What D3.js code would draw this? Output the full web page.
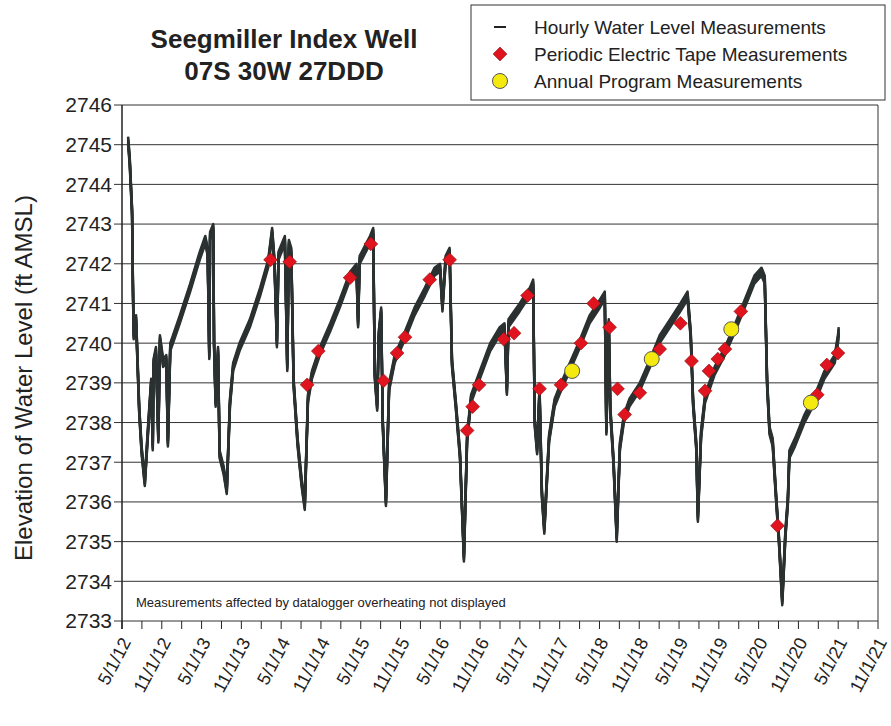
<!DOCTYPE html>
<html>
<head>
<meta charset="utf-8">
<script src="https://cdn.jsdelivr.net/npm/d3@7"></script>
<style>
  body { margin: 0; background: #fff; }
  text { font-family: "Liberation Sans", Arial, sans-serif; fill: #222; }
</style>
</head>
<body>
<div id="chart"></div>
<script>
// --- data (decimal year, ft AMSL) ---
const hourly = [
  [2012.41,2745.1],[2012.43,2744.6],[2012.46,2743.3],[2012.47,2741.5],[2012.48,2740.2],[2012.51,2740.6],
  [2012.55,2738.3],[2012.58,2737.3],[2012.62,2736.5],[2012.66,2737.8],[2012.70,2739.0],[2012.72,2737.4],
  [2012.73,2739.5],[2012.76,2739.8],[2012.79,2737.6],[2012.81,2740.1],[2012.85,2739.5],[2012.89,2739.6],
  [2012.91,2737.5],[2012.94,2739.9],[2013.06,2740.6],[2013.19,2741.4],[2013.31,2742.2],[2013.38,2742.6],
  [2013.41,2742.3],[2013.43,2739.7],[2013.44,2742.7],[2013.48,2742.9],[2013.49,2740.0],[2013.51,2738.5],
  [2013.54,2739.8],[2013.56,2737.2],[2013.61,2736.8],[2013.65,2736.3],[2013.69,2738.5],[2013.73,2739.4],
  [2013.81,2739.9],[2013.94,2740.5],[2014.07,2741.3],[2014.17,2742.0],[2014.22,2742.8],[2014.25,2742.0],
  [2014.28,2740.0],[2014.30,2742.2],[2014.38,2742.6],[2014.41,2739.4],[2014.43,2742.5],[2014.46,2742.3],
  [2014.49,2739.0],[2014.54,2737.5],[2014.59,2736.5],[2014.63,2735.9],[2014.67,2738.6],[2014.72,2739.2],
  [2014.82,2739.8],[2014.95,2740.4],[2015.07,2741.0],[2015.20,2741.7],[2015.28,2741.9],[2015.30,2740.5],
  [2015.32,2742.1],[2015.45,2742.6],[2015.49,2742.8],[2015.51,2739.2],[2015.54,2738.4],[2015.56,2740.2],
  [2015.59,2740.8],[2015.61,2738.0],[2015.65,2736.0],[2015.69,2738.9],[2015.76,2739.6],[2015.89,2740.2],
  [2016.01,2740.8],[2016.14,2741.3],[2016.26,2741.8],[2016.33,2741.9],[2016.36,2740.9],[2016.40,2742.1],
  [2016.45,2742.3],[2016.48,2739.5],[2016.53,2738.4],[2016.58,2737.2],[2016.63,2734.6],[2016.67,2737.6],
  [2016.72,2738.6],[2016.83,2739.2],[2016.96,2739.9],[2017.08,2740.3],[2017.14,2740.4],[2017.17,2738.8],
  [2017.19,2740.5],[2017.33,2740.9],[2017.46,2741.3],[2017.50,2741.5],[2017.52,2738.0],[2017.55,2737.3],
  [2017.58,2738.8],[2017.61,2736.2],[2017.64,2735.3],[2017.70,2737.6],[2017.77,2738.5],[2017.83,2738.8],
  [2017.96,2739.4],[2018.09,2740.0],[2018.21,2740.6],[2018.34,2741.0],[2018.40,2741.2],[2018.42,2737.8],
  [2018.45,2740.5],[2018.47,2738.3],[2018.51,2737.0],[2018.55,2735.1],[2018.59,2737.4],[2018.64,2738.1],
  [2018.71,2738.5],[2018.84,2738.9],[2018.97,2739.5],[2019.09,2740.1],[2019.22,2740.5],[2019.35,2740.9],
  [2019.44,2741.2],[2019.48,2740.2],[2019.51,2738.5],[2019.55,2737.4],[2019.57,2735.6],[2019.61,2737.7],
  [2019.66,2738.6],[2019.78,2739.3],[2019.91,2739.8],[2020.04,2740.4],[2020.16,2741.0],[2020.28,2741.6],
  [2020.37,2741.8],[2020.41,2741.6],[2020.44,2739.0],[2020.47,2737.8],[2020.51,2737.5],[2020.55,2736.2],
  [2020.59,2735.0],[2020.63,2733.5],[2020.67,2735.2],[2020.70,2736.0],[2020.72,2737.2],[2020.79,2737.5],
  [2020.91,2738.1],[2021.04,2738.6],[2021.16,2739.2],[2021.29,2739.6],[2021.33,2740.1],[2021.34,2740.3]
];
const tapeDates = [2014.20,2014.44,2014.66,2014.80,2015.20,2015.46,2015.62,2015.79,2015.89,2016.20,2016.45,
  2016.67,2016.74,2016.82,2017.13,2017.26,2017.43,2017.58,2017.85,2018.10,2018.26,2018.46,2018.56,2018.65,
  2018.84,2019.09,2019.35,2019.49,2019.66,2019.71,2019.82,2019.91,2020.11,2020.57,2021.07,2021.19,2021.33];
const tapeLevels = [2742.1,2742.05,2738.95,2739.8,2741.65,2742.5,2739.05,2739.75,2740.15,2741.6,2742.1,
  2737.8,2738.4,2738.95,2740.1,2740.25,2741.2,2738.85,2738.95,2740.0,2741.0,2740.4,2738.85,2738.2,
  2738.75,2739.85,2740.5,2739.55,2738.8,2739.3,2739.6,2739.85,2740.8,2735.4,2738.7,2739.45,2739.75];
const annualDates = [2017.99,2018.99,2019.99,2020.99];
const annualLevels = [2739.3,2739.6,2740.35,2738.5];

const yTicks = d3.range(2733, 2747);
const xLabels = [];
for (let y = 2012; y <= 2021; y++) { xLabels.push([y + 1/3, "5/1/" + (y % 100)]); xLabels.push([y + 5/6, "11/1/" + (y % 100)]); }
const legendItems = ["Hourly Water Level Measurements", "Periodic Electric Tape Measurements", "Annual Program Measurements"];

// --- layout ---
const W = 891, H = 726;
const m = { left: 122, right: 878, top: 105, bottom: 621 };
const svg = d3.select("#chart").append("svg").attr("width", W).attr("height", H);

const x = d3.scaleLinear().domain([2012 + 1/3, 2021 + 5/6]).range([m.left, m.right]);
const y = d3.scaleLinear().domain([2733, 2746]).range([m.bottom, m.top]);

// gridlines
svg.append("g").selectAll("line").data(yTicks).join("line")
  .attr("x1", m.left - 8).attr("x2", m.right)
  .attr("y1", d => y(d)).attr("y2", d => y(d))
  .attr("stroke", "#333").attr("stroke-width", 1);
svg.append("line").attr("x1", m.left).attr("x2", m.left).attr("y1", m.top).attr("y2", m.bottom + 8).attr("stroke", "#222").attr("stroke-width", 1.5);
svg.append("line").attr("x1", m.right).attr("x2", m.right).attr("y1", m.top).attr("y2", m.bottom).attr("stroke", "#333");

// y labels
svg.append("g").selectAll("text").data(yTicks).join("text")
  .attr("x", m.left - 10).attr("y", d => y(d)).attr("dy", "0.35em")
  .attr("text-anchor", "end").attr("font-size", 21).text(d => d);

// x ticks quarterly, labels semi-annual
const qTicks = d3.range(0, 39).map(i => 2012 + 1/3 + i * 0.25);
svg.append("g").selectAll("line").data(qTicks).join("line")
  .attr("x1", d => x(d)).attr("x2", d => x(d)).attr("y1", m.bottom).attr("y2", m.bottom + 8)
  .attr("stroke", "#222");
svg.append("g").selectAll("text").data(xLabels).join("text")
  .attr("transform", d => `translate(${x(d[0]) + 4},${m.bottom + 18}) rotate(-62)`)
  .attr("text-anchor", "end").attr("dy", "0.35em").attr("font-size", 18).text(d => d[1]);

// hourly line: drawn as a band (daily fluctuation gives the trace its width)
const line = d3.line().x(d => x(d[0])).y(d => y(d[1]));
[-4, -2, 0, 2, 4].forEach(off => {
  svg.append("path").datum(hourly)
    .attr("d", line).attr("transform", `translate(0,${off})`)
    .attr("fill", "none").attr("stroke", "#2b3131").attr("stroke-width", 2.5).attr("stroke-linejoin", "round");
});

// tape diamonds
svg.append("g").selectAll("path").data(tapeDates).join("path")
  .attr("d", d3.symbol().type(d3.symbolSquare).size(95))
  .attr("transform", (d, i) => `translate(${x(d)},${y(tapeLevels[i])}) rotate(45)`)
  .attr("fill", "#e0141e").attr("stroke", "#8a1010").attr("stroke-width", 0.6);

// annual circles
svg.append("g").selectAll("circle").data(annualDates).join("circle")
  .attr("cx", d => x(d)).attr("cy", (d, i) => y(annualLevels[i])).attr("r", 7.5)
  .attr("fill", "#f5ea10").attr("stroke", "#555").attr("stroke-width", 1);

// note
svg.append("text").attr("x", 136).attr("y", 607).attr("font-size", 13)
  .text("Measurements affected by datalogger overheating not displayed");

// title
svg.append("text").attr("x", 284).attr("y", 48).attr("text-anchor", "middle").attr("font-size", 26).attr("font-weight", "bold").text("Seegmiller Index Well");
svg.append("text").attr("x", 284).attr("y", 80).attr("text-anchor", "middle").attr("font-size", 26).attr("font-weight", "bold").text("07S 30W 27DDD");

// y axis title
svg.append("text").attr("transform", `translate(32,${(m.top + m.bottom) / 2 + 15}) rotate(-90)`)
  .attr("text-anchor", "middle").attr("font-size", 24).text("Elevation of Water Level (ft AMSL)");

// legend
const lg = svg.append("g");
lg.append("rect").attr("x", 471).attr("y", 5).attr("width", 414).attr("height", 95).attr("fill", "#fff").attr("stroke", "#333");
const ly = i => 27 + i * 27;
lg.append("line").attr("x1", 494).attr("x2", 506).attr("y1", ly(0)).attr("y2", ly(0)).attr("stroke", "#222").attr("stroke-width", 2);
lg.append("path").attr("d", d3.symbol().type(d3.symbolSquare).size(95)).attr("transform", `translate(500,${ly(1)}) rotate(45)`).attr("fill", "#e0141e").attr("stroke", "#8a1010").attr("stroke-width", 0.6);
lg.append("circle").attr("cx", 500).attr("cy", ly(2)).attr("r", 7.5).attr("fill", "#f5ea10").attr("stroke", "#555");
lg.selectAll("text.l").data(legendItems).join("text")
  .attr("x", 534).attr("y", (d, i) => ly(i)).attr("dy", "0.35em").attr("font-size", 19).text(d => d);
</script>
</body>
</html>
